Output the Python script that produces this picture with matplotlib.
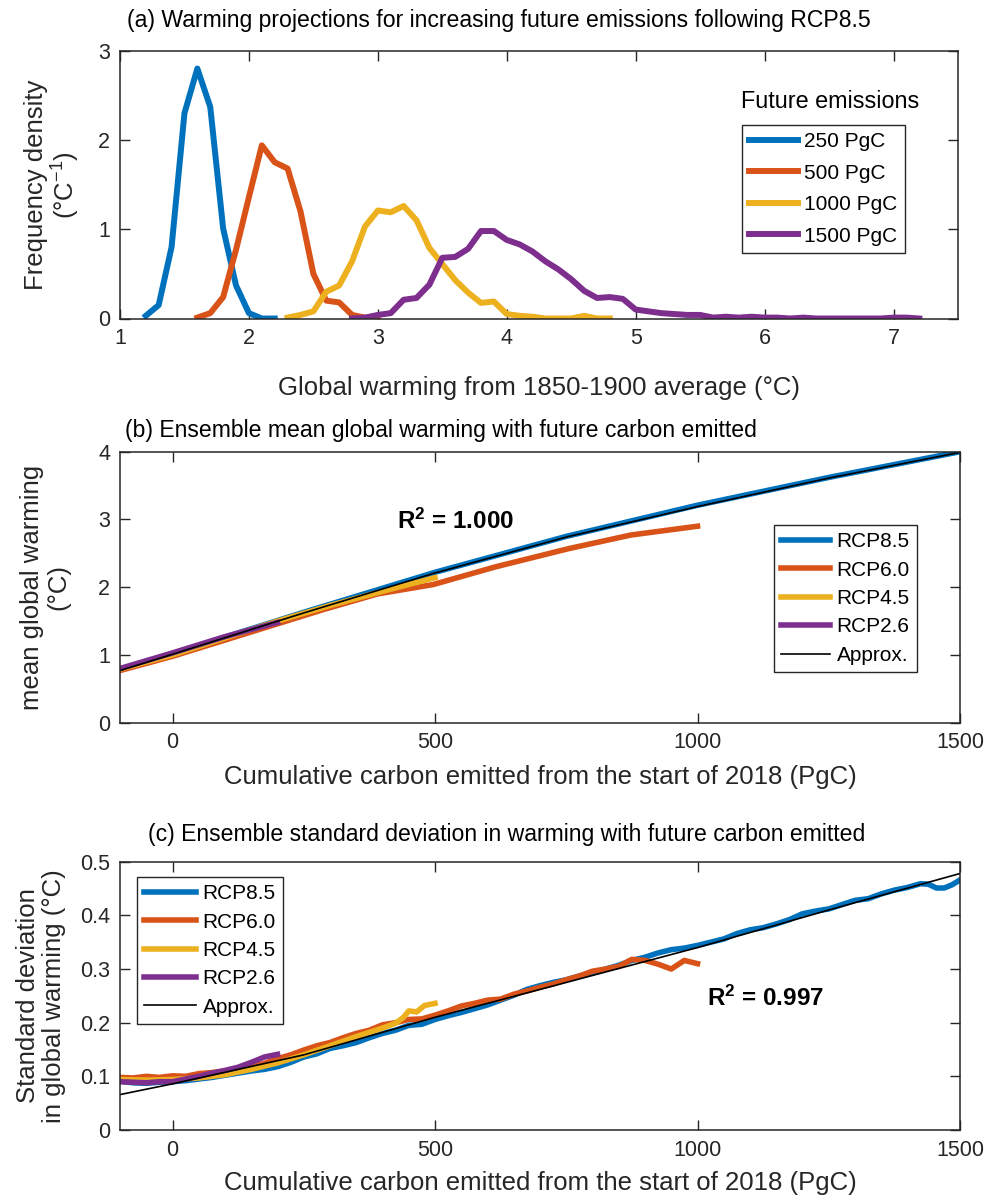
import numpy as np
import matplotlib
matplotlib.use("Agg")
import matplotlib.pyplot as plt

plt.rcParams['font.family'] = ['Liberation Sans', 'DejaVu Sans']
plt.rcParams['mathtext.fontset'] = 'custom'
plt.rcParams['mathtext.rm'] = 'Liberation Sans'
plt.rcParams['mathtext.bf'] = 'Liberation Sans:bold'
plt.rcParams['mathtext.it'] = 'Liberation Sans:italic'

# ---------------- Data: panel (a) frequency density ----------------
a_x_250 = [1.2, 1.3, 1.4, 1.5, 1.6, 1.7, 1.8, 1.9, 2.0, 2.1, 2.2]
a_y_250 = [0.03, 0.15, 0.80, 2.30, 2.80, 2.37, 1.01, 0.37, 0.06, 0.0, 0.0]

a_x_500 = [1.6, 1.7, 1.8, 1.9, 2.0, 2.1, 2.2, 2.3, 2.4, 2.5, 2.6, 2.7, 2.8, 2.9, 3.0]
a_y_500 = [0.01, 0.06, 0.24, 0.77, 1.36, 1.94, 1.75, 1.68, 1.20, 0.50, 0.20, 0.18, 0.04, 0.01, 0.0]

a_x_1000 = [2.3, 2.4, 2.5, 2.6, 2.7, 2.8, 2.9, 3.0, 3.1, 3.2, 3.3, 3.4, 3.5,
            3.6, 3.7, 3.8, 3.9, 4.0, 4.1, 4.2, 4.3, 4.4, 4.5, 4.6, 4.7, 4.8]
a_y_1000 = [0.01, 0.04, 0.08, 0.30, 0.37, 0.64, 1.03, 1.21, 1.19, 1.26, 1.10, 0.79, 0.61,
            0.43, 0.29, 0.175, 0.19, 0.05, 0.03, 0.02, 0.0, 0.0, 0.0, 0.03, 0.0, 0.0]

a_x_1500 = [2.8, 2.9, 3.0, 3.1, 3.2, 3.3, 3.4, 3.5, 3.6, 3.7, 3.8, 3.9, 4.0, 4.1, 4.2,
            4.3, 4.4, 4.5, 4.6, 4.7, 4.8, 4.9, 5.0, 5.1, 5.2, 5.3, 5.4, 5.5, 5.6, 5.7,
            5.8, 5.9, 6.0, 6.1, 6.2, 6.3, 6.4, 6.5, 6.6, 6.7, 6.8, 6.9, 7.0, 7.1, 7.2]
a_y_1500 = [0.0, 0.01, 0.04, 0.06, 0.21, 0.23, 0.38, 0.68, 0.69, 0.78, 0.98, 0.98, 0.88, 0.83, 0.75,
            0.64, 0.55, 0.44, 0.31, 0.23, 0.24, 0.22, 0.10, 0.08, 0.06, 0.05, 0.04, 0.04, 0.01, 0.02,
            0.01, 0.02, 0.01, 0.01, 0.0, 0.01, 0.0, 0.0, 0.0, 0.0, 0.0, 0.0, 0.01, 0.01, 0.0]

a_labels = ['250 PgC', '500 PgC', '1000 PgC', '1500 PgC']

# ---------------- Data: panel (b) ensemble mean warming ----------------
b_x_85 = [-100, 0, 250, 500, 750, 1000, 1250, 1500]
b_y_85 = [0.79, 1.02, 1.63, 2.22, 2.75, 3.21, 3.62, 4.00]
b_x_60 = [-100, 0, 100, 200, 283, 390, 497, 615, 755, 873, 1000]
b_y_60 = [0.77, 0.98, 1.22, 1.46, 1.66, 1.90, 2.04, 2.30, 2.57, 2.77, 2.90]
b_x_45 = [-100, 0, 100, 200, 300, 400, 500]
b_y_45 = [0.79, 1.00, 1.25, 1.50, 1.73, 1.94, 2.14]
b_x_26 = [-100, 0, 100, 200]
b_y_26 = [0.80, 1.03, 1.27, 1.48]
b_x_ap = [-100, 0, 250, 500, 750, 1000, 1250, 1500]
b_y_ap = [0.77, 1.01, 1.62, 2.21, 2.74, 3.19, 3.61, 3.99]

# ---------------- Data: panel (c) ensemble standard deviation ----------------
c_x_85 = [-100, -75, -50, -25, 0, 25, 50, 75, 100, 125, 150, 175, 200, 225, 250, 275, 300,
          325, 350, 375, 400, 425, 450, 475, 500, 525, 550, 575, 600, 625, 650, 675, 700,
          725, 750, 775, 800, 825, 850, 875, 900, 925, 950, 975, 1000, 1025, 1050, 1075,
          1100, 1125, 1150, 1175, 1200, 1225, 1250, 1275, 1300, 1325, 1350, 1375, 1400,
          1425, 1440, 1455, 1470, 1485, 1500]
c_y_85 = [0.091, 0.088, 0.087, 0.089, 0.090, 0.092, 0.095, 0.098, 0.102, 0.106, 0.110, 0.113,
          0.118, 0.126, 0.136, 0.142, 0.152, 0.157, 0.163, 0.172, 0.180, 0.186, 0.195, 0.197,
          0.206, 0.213, 0.219, 0.226, 0.233, 0.242, 0.251, 0.262, 0.269, 0.275, 0.280, 0.287,
          0.293, 0.300, 0.307, 0.316, 0.322, 0.330, 0.336, 0.339, 0.344, 0.350, 0.356, 0.366,
          0.373, 0.377, 0.384, 0.392, 0.403, 0.408, 0.412, 0.420, 0.428, 0.431, 0.440, 0.447,
          0.452, 0.459, 0.458, 0.451, 0.451, 0.457, 0.466]
c_x_60 = [-100, -75, -50, -25, 0, 25, 50, 75, 100, 125, 150, 175, 200, 225, 250, 275, 300,
          325, 350, 375, 400, 425, 450, 475, 500, 525, 550, 575, 600, 625, 650, 675, 700,
          725, 750, 775, 800, 825, 850, 875, 900, 925, 950, 975, 1000]
c_y_60 = [0.098, 0.097, 0.100, 0.098, 0.101, 0.100, 0.105, 0.107, 0.110, 0.113, 0.118, 0.124,
          0.133, 0.140, 0.149, 0.157, 0.163, 0.172, 0.180, 0.186, 0.196, 0.200, 0.206, 0.207,
          0.214, 0.222, 0.231, 0.236, 0.242, 0.244, 0.253, 0.259, 0.266, 0.272, 0.280, 0.287,
          0.296, 0.300, 0.305, 0.318, 0.316, 0.309, 0.300, 0.316, 0.310]
c_x_45 = [-100, -50, 0, 50, 100, 150, 200, 250, 300, 350, 400, 425, 440, 450, 465, 480, 500]
c_y_45 = [0.094, 0.093, 0.094, 0.097, 0.103, 0.113, 0.125, 0.140, 0.157, 0.174, 0.190, 0.199,
          0.210, 0.222, 0.220, 0.232, 0.236]
c_x_26 = [-100, -75, -50, -25, 0, 25, 50, 75, 100, 125, 150, 175, 200]
c_y_26 = [0.090, 0.089, 0.088, 0.090, 0.090, 0.095, 0.100, 0.106, 0.111, 0.117, 0.126, 0.136, 0.141]
c_x_ap = [-100, 0, 250, 500, 750, 1000, 1250, 1500]
c_y_ap = [0.066, 0.086, 0.140, 0.210, 0.275, 0.340, 0.410, 0.478]

rcp_labels = ['RCP8.5', 'RCP6.0', 'RCP4.5', 'RCP2.6', 'Approx.']

colors = ['#0072BD', '#D95319', '#EDB120', '#7E2F8E']
axcol = '#262626'

W, H = 984, 1200
fig = plt.figure(figsize=(W / 100, H / 100), dpi=100)


def rect(l, t, r, b):
    return [l / W, 1 - b / H, (r - l) / W, (b - t) / H]


TICK = 15.5
LAB = 18.5
TIT = 16.6
LEG = 15
RSQ = 17.5


def style(ax):
    ax.tick_params(direction='in', top=True, right=True, length=7, width=1,
                   color=axcol, labelsize=TICK, labelcolor=axcol, pad=7)
    for s in ax.spines.values():
        s.set_color(axcol)
        s.set_linewidth(1.1)


def make_legend(ax, anchor, spacing, hlen=2.35):
    leg = ax.legend(loc='upper left', bbox_to_anchor=anchor, borderaxespad=0,
                    fontsize=LEG, frameon=True, fancybox=False, edgecolor='#262626',
                    framealpha=1, handlelength=hlen, handletextpad=0.3,
                    labelspacing=spacing, borderpad=0.35)
    leg.get_frame().set_linewidth(1.0)
    return leg


# ---- (a)
ax1 = fig.add_axes(rect(120, 50.7, 958, 318.5))
for xs, ys, c, lab in zip([a_x_250, a_x_500, a_x_1000, a_x_1500],
                          [a_y_250, a_y_500, a_y_1000, a_y_1500], colors, a_labels):
    ax1.plot(xs, ys, color=c, lw=4.3, label=lab)
ax1.set_xlim(1, 7.5)
ax1.set_ylim(0, 3)
ax1.set_xticks([1, 2, 3, 4, 5, 6, 7])
ax1.set_yticks([0, 1, 2, 3])
style(ax1)
ax1.set_xlabel('Global warming from 1850-1900 average (°C)', fontsize=LAB, color=axcol)
ax1.xaxis.set_label_coords(0.5, -0.26)
ax1.xaxis.label.set_va('center')
ax1.set_ylabel('Frequency density\n(°C$^{-1}$)', fontsize=LAB, color=axcol, linespacing=1.1)
ax1.yaxis.set_label_coords(-0.08, 0.5)
ax1.yaxis.label.set_va('center')
make_legend(ax1, (0.742, 0.7226), 0.6)
fig.text(830 / W, 1 - 101.7 / H, 'Future emissions', fontsize=16.8, ha='center',
         va='center', color='k')

# ---- (b)
ax2 = fig.add_axes(rect(120, 451.7, 960, 722.7))
for xs, ys, c, lab in zip([b_x_85, b_x_60, b_x_45, b_x_26],
                          [b_y_85, b_y_60, b_y_45, b_y_26], colors, rcp_labels):
    ax2.plot(xs, ys, color=c, lw=4.0, label=lab)
ax2.plot(b_x_ap, b_y_ap, color='k', lw=1.2, label=rcp_labels[4])
ax2.set_xlim(-100, 1500)
ax2.set_ylim(0, 4)
ax2.set_xticks([0, 500, 1000, 1500])
ax2.set_yticks([0, 1, 2, 3, 4])
style(ax2)
ax2.set_xlabel('Cumulative carbon emitted from the start of 2018 (PgC)', fontsize=LAB, color=axcol)
ax2.xaxis.set_label_coords(0.5, -0.199)
ax2.xaxis.label.set_va('center')
ax2.set_ylabel('mean global warming\n(°C)', fontsize=LAB, color=axcol, linespacing=1.1)
ax2.yaxis.set_label_coords(-0.089, 0.5)
ax2.yaxis.label.set_va('center')
make_legend(ax2, (0.7786, 0.7295), 0.45)
ax2.text(428, 2.98, r'$\mathbf{R^2}$ = 1.000', fontsize=RSQ, fontweight='bold',
         ha='left', va='center')

# ---- (c)
ax3 = fig.add_axes(rect(120, 861.7, 960, 1130))
for xs, ys, c, lab in zip([c_x_85, c_x_60, c_x_45, c_x_26],
                          [c_y_85, c_y_60, c_y_45, c_y_26], colors, rcp_labels):
    ax3.plot(xs, ys, color=c, lw=4.0, label=lab)
ax3.plot(c_x_ap, c_y_ap, color='k', lw=1.2, label=rcp_labels[4])
ax3.set_xlim(-100, 1500)
ax3.set_ylim(0, 0.5)
ax3.set_xticks([0, 500, 1000, 1500])
ax3.set_yticks([0, 0.1, 0.2, 0.3, 0.4, 0.5])
ax3.set_yticklabels(['0', '0.1', '0.2', '0.3', '0.4', '0.5'])
style(ax3)
ax3.set_xlabel('Cumulative carbon emitted from the start of 2018 (PgC)', fontsize=LAB, color=axcol)
ax3.xaxis.set_label_coords(0.5, -0.1975)
ax3.xaxis.label.set_va('center')
ax3.set_ylabel('Standard deviation\nin global warming (°C)', fontsize=LAB, color=axcol,
               linespacing=1.1)
ax3.yaxis.set_label_coords(-0.094, 0.5)
ax3.yaxis.label.set_va('center')
make_legend(ax3, (0.0202, 0.943), 0.45, hlen=2.5)
ax3.text(1018, 0.246, r'$\mathbf{R^2}$ = 0.997', fontsize=RSQ, fontweight='bold',
         ha='left', va='center')

# ---- panel titles
fig.text(127 / W, 1 - 20 / H, '(a) Warming projections for increasing future emissions following RCP8.5',
         fontsize=TIT, ha='left', va='center')
fig.text(125 / W, 1 - 431 / H, '(b) Ensemble mean global warming with future carbon emitted',
         fontsize=TIT, ha='left', va='center')
fig.text(148 / W, 1 - 835 / H, '(c) Ensemble standard deviation in warming with future carbon emitted',
         fontsize=TIT, ha='left', va='center')

fig.savefig('out.png', dpi=100)
